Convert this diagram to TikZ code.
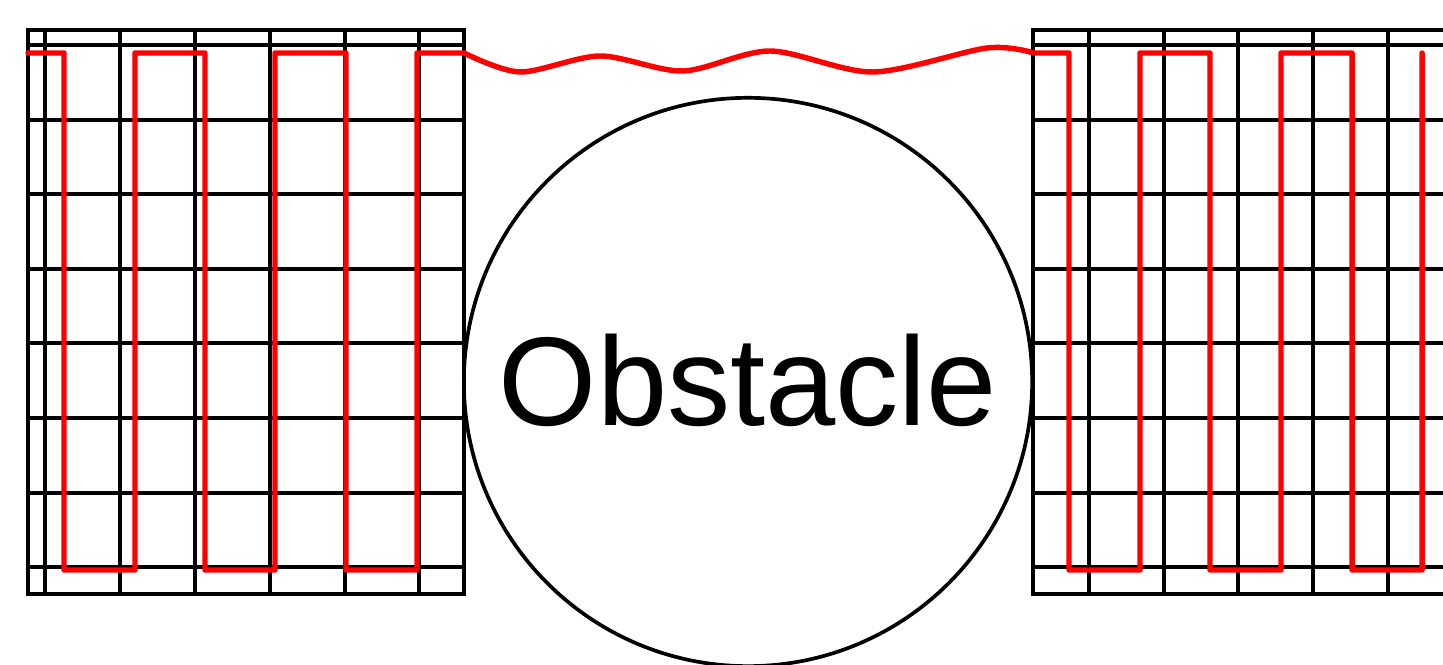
\documentclass[tikz,border=0pt]{standalone}
\usepackage{fontspec}
\setmainfont{Liberation Sans}
\begin{document}
\begin{tikzpicture}[x=0.01cm, y=-0.01cm,
  gridline/.style={line width=1.1pt, black},
  route/.style={line width=1.55pt, red, line join=round, line cap=round},
  obst/.style={circle, draw, line width=1.05pt, minimum size=5.68cm, inner sep=0pt, text depth=0.12em, font=\fontsize{35.9}{40}\selectfont}
]
\useasboundingbox (0,0) rectangle (1443,665);
\clip (0,0) rectangle (1443,665);
% left field
\draw[gridline] (28,30) rectangle (464,594);
\foreach \y in {45,120,194,269,343,418,493,567}
  \draw[gridline] (28,\y) -- (464,\y);
\foreach \x in {45,120,195,270,345,419}
  \draw[gridline] (\x,30) -- (\x,594);
% right field
\draw[gridline] (1460,30) -- (1033,30) -- (1033,594) -- (1460,594);
\foreach \y in {45,120,194,269,343,418,493,567}
  \draw[gridline] (1033,\y) -- (1460,\y);
\foreach \x in {1089,1164,1238,1313,1388}
  \draw[gridline] (\x,30) -- (\x,594);
% obstacle
\node[obst] (obstacle) at (748,382) {Obstacle};
% coverage path
\draw[route] (28,53) -- (64,53) -- (64,570) -- (135,570) -- (135,53)
  -- (205,53) -- (205,570) -- (275,570) -- (275,53)
  -- (346,53) -- (346,570) -- (417,570) -- (417,53) -- (464,53)
  -- plot[smooth] coordinates {(464,53) (520,72) (600,56) (683,71) (770,51) (873,72) (987,48) (1034,53)}
  -- (1069,53) -- (1069,570) -- (1140,570) -- (1140,53)
  -- (1210,53) -- (1210,570) -- (1281,570) -- (1281,53)
  -- (1352,53) -- (1352,570) -- (1422,570) -- (1422,53);
\end{tikzpicture}
\end{document}
